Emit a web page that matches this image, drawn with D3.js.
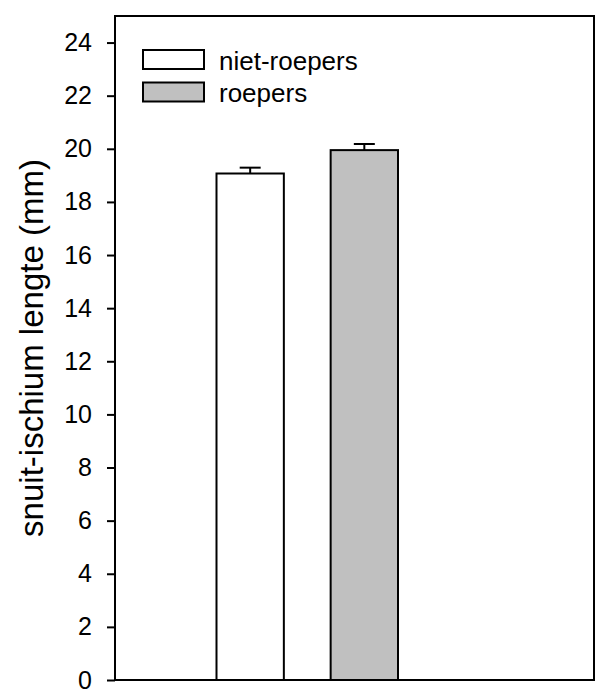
<!DOCTYPE html>
<html>
<head>
<meta charset="utf-8">
<script src="https://cdn.jsdelivr.net/npm/d3@7"></script>
<style>
  body { margin: 0; background: #fff; }
  svg { display: block; font-family: "Liberation Sans", Arial, sans-serif; }
</style>
</head>
<body>
<svg id="chart"></svg>
<script>
// data
const groups = ["niet-roepers", "roepers"];
const means = [19.07, 19.95];
const errors = [0.22, 0.23];
const yTicks = [0, 2, 4, 6, 8, 10, 12, 14, 16, 18, 20, 22, 24];

const fills = ["#ffffff", "#c0c0c0"];

const W = 597, H = 689;
const margin = { top: 16, right: 3, bottom: 9, left: 115 };
const width = W - margin.left - margin.right;
const height = H - margin.top - margin.bottom;

const svg = d3.select("#chart").attr("width", W).attr("height", H);
const g = svg.append("g").attr("transform", `translate(${margin.left},${margin.top})`);

const x = d3.scaleBand()
  .domain(groups)
  .range([101.5, 283])
  .paddingInner(0.41)
  .paddingOuter(0);

const y = d3.scaleLinear().domain([0, 25]).range([height, 0]);

const data = groups.map((name, i) => ({ name, mean: means[i], err: errors[i], fill: fills[i] }));

// bars
g.selectAll(".bar")
  .data(data)
  .enter()
  .append("rect")
  .attr("class", "bar")
  .attr("x", d => x(d.name))
  .attr("y", d => y(d.mean))
  .attr("width", x.bandwidth())
  .attr("height", d => height - y(d.mean))
  .attr("fill", d => d.fill)
  .attr("stroke", "#000")
  .attr("stroke-width", 2);

// error bars (upper only)
const eb = g.selectAll(".err").data(data).enter().append("g").attr("class", "err");
eb.append("line")
  .attr("x1", d => x(d.name) + x.bandwidth() / 2)
  .attr("x2", d => x(d.name) + x.bandwidth() / 2)
  .attr("y1", d => y(d.mean))
  .attr("y2", d => y(d.mean + d.err))
  .attr("stroke", "#000").attr("stroke-width", 2);
eb.append("line")
  .attr("x1", d => x(d.name) + x.bandwidth() / 2 - 10.5)
  .attr("x2", d => x(d.name) + x.bandwidth() / 2 + 10.5)
  .attr("y1", d => y(d.mean + d.err))
  .attr("y2", d => y(d.mean + d.err))
  .attr("stroke", "#000").attr("stroke-width", 2);

// frame
g.append("rect")
  .attr("width", width).attr("height", height)
  .attr("fill", "none").attr("stroke", "#000").attr("stroke-width", 2);

// y axis
const yAxis = g.append("g")
  .call(d3.axisLeft(y).tickValues(yTicks).tickSize(8).tickPadding(15).tickSizeOuter(0));
yAxis.select(".domain").remove();
yAxis.selectAll(".tick line").attr("stroke-width", 2);
yAxis.selectAll(".tick text").attr("font-size", 25).attr("fill", "#000")
  .attr("font-family", "Liberation Sans, Arial, sans-serif");

// y label
svg.append("text")
  .attr("transform", `translate(43,${margin.top + height / 2}) rotate(-90)`)
  .attr("text-anchor", "middle")
  .attr("font-size", 33)
  .text("snuit-ischium lengte (mm)");

// legend
const legend = g.append("g").attr("transform", "translate(28,34)");
const li = legend.selectAll(".li").data(data).enter().append("g")
  .attr("transform", (d, i) => `translate(0,${i * 32.5})`);
li.append("rect")
  .attr("width", 61).attr("height", 19)
  .attr("fill", d => d.fill).attr("stroke", "#000").attr("stroke-width", 2);
li.append("text")
  .attr("x", 76).attr("y", 19.5)
  .attr("font-size", 26)
  .text(d => d.name);
</script>
</body>
</html>
